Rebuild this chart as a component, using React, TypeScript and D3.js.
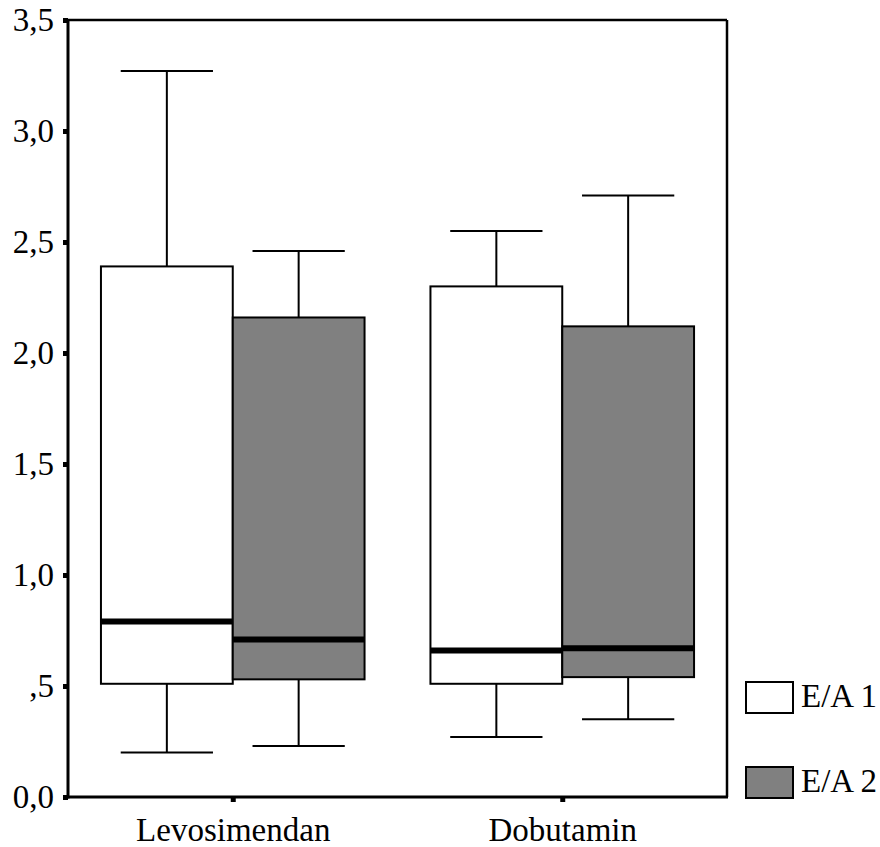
import React, { useRef, useEffect } from 'react';
import * as d3 from 'd3';

// categories and series
const groups = ['Levosimendan', 'Dobutamin'];
const series = ['E/A 1', 'E/A 2'];

// box plot stats, one value per group
const ea1Low = [0.20, 0.27];
const ea1Q1 = [0.51, 0.51];
const ea1Median = [0.79, 0.66];
const ea1Q3 = [2.39, 2.30];
const ea1High = [3.27, 2.55];

const ea2Low = [0.23, 0.35];
const ea2Q1 = [0.53, 0.54];
const ea2Median = [0.71, 0.67];
const ea2Q3 = [2.16, 2.12];
const ea2High = [2.46, 2.71];

// y axis ticks
const yTicks = [0, 0.5, 1, 1.5, 2, 2.5, 3, 3.5];
const yTickLabels = ['0,0', ',5', '1,0', '1,5', '2,0', '2,5', '3,0', '3,5'];

const fills = ['#ffffff', '#808080'];

const App = () => {
  const svgRef = useRef<SVGSVGElement>(null);

  useEffect(() => {
    const width = 880;
    const height = 847;
    const left = 68, right = 727, top = 20, bottom = 797;
    const font = '"Liberation Serif", "Times New Roman", serif';

    const svg = d3.select(svgRef.current);
    svg.selectAll('*').remove();
    svg.attr('width', width).attr('height', height)
      .style('font-family', font);

    const y = d3.scaleLinear().domain([0, 3.5]).range([bottom, top]);
    const x0 = d3.scaleBand().domain(groups).range([left, right]).padding(0);
    const x1 = d3.scaleBand().domain(series).range([0, x0.bandwidth()]).paddingInner(0).paddingOuter(0.25);

    // Build the box stats table from the arrays
    const stats = [
      { low: ea1Low, q1: ea1Q1, med: ea1Median, q3: ea1Q3, high: ea1High },
      { low: ea2Low, q1: ea2Q1, med: ea2Median, q3: ea2Q3, high: ea2High },
    ];
    const boxes: any[] = [];
    groups.forEach((g, gi) => {
      series.forEach((s, si) => {
        const st = stats[si];
        boxes.push({
          group: g, series: s, si,
          low: st.low[gi], q1: st.q1[gi], med: st.med[gi], q3: st.q3[gi], high: st.high[gi],
        });
      });
    });

    const bw = x1.bandwidth();
    const capW = bw * 0.7;

    const g = svg.append('g');

    // whiskers
    boxes.forEach(b => {
      const cx = x0(b.group)! + x1(b.series)! + bw / 2;
      g.append('line')
        .attr('x1', cx).attr('x2', cx)
        .attr('y1', y(b.high)).attr('y2', y(b.low))
        .attr('stroke', '#000').attr('stroke-width', 2);
      [b.high, b.low].forEach(v => {
        g.append('line')
          .attr('x1', cx - capW / 2).attr('x2', cx + capW / 2)
          .attr('y1', y(v)).attr('y2', y(v))
          .attr('stroke', '#000').attr('stroke-width', 2);
      });
    });

    // boxes
    boxes.forEach(b => {
      const bx = x0(b.group)! + x1(b.series)!;
      g.append('rect')
        .attr('x', bx).attr('y', y(b.q3))
        .attr('width', bw).attr('height', y(b.q1) - y(b.q3))
        .attr('fill', fills[b.si])
        .attr('stroke', '#000').attr('stroke-width', 2);
    });

    // medians
    boxes.forEach(b => {
      const bx = x0(b.group)! + x1(b.series)!;
      g.append('line')
        .attr('x1', bx).attr('x2', bx + bw)
        .attr('y1', y(b.med)).attr('y2', y(b.med))
        .attr('stroke', '#000').attr('stroke-width', 6);
    });

    // frame
    svg.append('line').attr('x1', left).attr('x2', right).attr('y1', top).attr('y2', top)
      .attr('stroke', '#000').attr('stroke-width', 2.5);
    svg.append('line').attr('x1', right).attr('x2', right).attr('y1', top).attr('y2', bottom)
      .attr('stroke', '#000').attr('stroke-width', 2.5);
    svg.append('line').attr('x1', left).attr('x2', left).attr('y1', top - 1).attr('y2', bottom + 1.5)
      .attr('stroke', '#000').attr('stroke-width', 3);
    svg.append('line').attr('x1', left - 1.5).attr('x2', right + 1).attr('y1', bottom).attr('y2', bottom)
      .attr('stroke', '#000').attr('stroke-width', 3);

    // Y axis
    const yAxis = svg.append('g')
      .attr('transform', `translate(${left},0)`)
      .call(d3.axisLeft(y).tickValues(yTicks)
        .tickFormat((d, i) => yTickLabels[i])
        .tickSize(5).tickPadding(9));
    yAxis.attr('font-family', font).attr('font-size', 33);
    yAxis.select('.domain').remove();
    yAxis.selectAll('line').attr('stroke', '#000').attr('stroke-width', 5);
    yAxis.selectAll('text').attr('fill', '#000');

    // X axis
    const xAxis = svg.append('g')
      .attr('transform', `translate(0,${bottom})`)
      .call(d3.axisBottom(d3.scalePoint().domain(groups)
        .range([x0(groups[0])! + x0.bandwidth() / 2, x0(groups[1])! + x0.bandwidth() / 2]))
        .tickSize(5).tickPadding(16));
    xAxis.attr('font-family', font).attr('font-size', 33);
    xAxis.select('.domain').remove();
    xAxis.selectAll('line').attr('stroke', '#000').attr('stroke-width', 5);
    xAxis.selectAll('text').attr('fill', '#000');

    // Legend
    const legendY = [682, 767];
    series.forEach((s, i) => {
      svg.append('rect')
        .attr('x', 746).attr('y', legendY[i])
        .attr('width', 47).attr('height', 31)
        .attr('fill', fills[i])
        .attr('stroke', '#000').attr('stroke-width', 2);
      svg.append('text')
        .attr('x', 801).attr('y', legendY[i] + 25)
        .attr('font-family', font).attr('font-size', 33)
        .attr('fill', '#000')
        .text(s);
    });
  }, []);

  return (
    <svg ref={svgRef} style={{ position: 'absolute', left: 0, top: 0 }}></svg>
  );
};

export default App;
